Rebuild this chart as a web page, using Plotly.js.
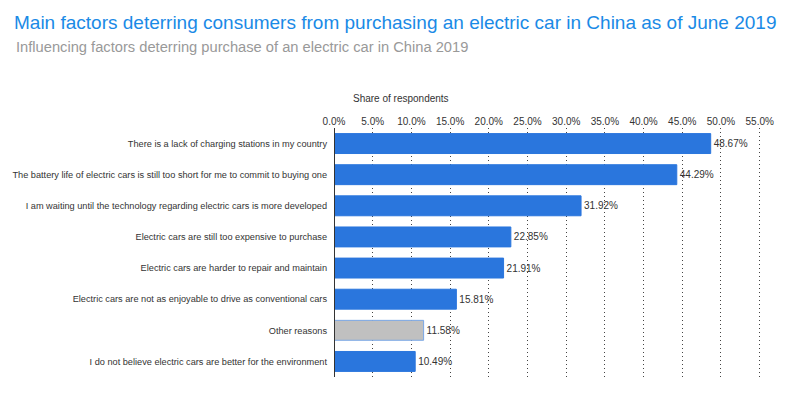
<!DOCTYPE html>
<html><head><meta charset="utf-8">
<script src="https://cdn.plot.ly/plotly-3.0.1.min.js"></script>
<style>html,body{margin:0;padding:0;background:#fff}#chart{width:800px;height:399px}</style>
</head><body><div id="chart"></div>
<script>
const categories = [
  "There is a lack of charging stations in my country",
  "The battery life of electric cars is still too short for me to commit to buying one",
  "I am waiting until the technology regarding electric cars is more developed",
  "Electric cars are still too expensive to purchase",
  "Electric cars are harder to repair and maintain",
  "Electric cars are not as enjoyable to drive as conventional cars",
  "Other reasons",
  "I do not believe electric cars are better for the environment"
];
const values = [48.67, 44.29, 31.92, 22.85, 21.91, 15.81, 11.58, 10.49];
const tickVals = [0,5,10,15,20,25,30,35,40,45,50,55];
const tickText = tickVals.map(v => v.toFixed(1) + "%");

const colors = categories.map(c => c === "Other reasons" ? "#c0c0c0" : "#2a76dd");
const lineColors = categories.map(c => c === "Other reasons" ? "#7aa7e6" : "#2a76dd");

const trace = {
  type: "bar", orientation: "h",
  x: values, y: categories,
  marker: {color: colors, line: {color: lineColors, width: 1}},
  width: 0.64,
  text: values.map(v => v.toFixed(2) + "%"),
  textposition: "outside",
  textfont: {family: "Liberation Sans, Arial, sans-serif", size: 10, color: "#333"},
  cliponaxis: false,
  hoverinfo: "none"
};

const layout = {
  width: 800, height: 399,
  margin: {l: 334, r: 38, t: 128, b: 22},
  paper_bgcolor: "#fff", plot_bgcolor: "#fff",
  font: {family: "Liberation Sans, Arial, sans-serif", size: 10, color: "#333"},
  showlegend: false,
  bargap: 0.36,
  title: {
    text: "Main factors deterring consumers from purchasing an electric car in China as of June 2019",
    font: {family: "Liberation Sans, Arial, sans-serif", size: 19, color: "#1a8ae6"},
    x: 0.0175, xanchor: "left", xref: "container", y: 1 - 22/399, yanchor: "middle", yref: "container"
  },
  xaxis: {
    side: "top", range: [0, 55.3], tickvals: tickVals, ticktext: tickText,
    showgrid: true, gridcolor: "#444", griddash: "1px,3px", gridwidth: 1,
    zeroline: false, showline: false, ticks: "",
    tickfont: {size: 10, color: "#333"}, fixedrange: true
  },
  yaxis: {
    autorange: "reversed", showgrid: false, zeroline: false,
    showline: false, ticks: "", ticklabelstandoff: 6,
    tickfont: {size: 9.2, color: "#333"}, fixedrange: true
  },
  shapes: [{type: "line", xref: "x", yref: "paper", x0: 0, x1: 0, y0: 0, y1: 1,
            line: {color: "#333", width: 2}}],
  annotations: [
    {text: "Influencing factors deterring purchase of an electric car in China 2019",
     xref: "paper", yref: "paper", x: (14 - 334) / 428, y: (377 - 47) / 249,
     xanchor: "left", yanchor: "middle", showarrow: false,
     font: {size: 14.7, color: "#999"}},
    {text: "Share of respondents", xref: "paper", yref: "paper",
     x: 0.04, y: 1, xanchor: "left", yanchor: "bottom", yshift: 22,
     showarrow: false, font: {size: 10, color: "#333"}}
  ]
};

Plotly.newPlot("chart", [trace], layout, {displayModeBar: false, staticPlot: true});
</script></body></html>
